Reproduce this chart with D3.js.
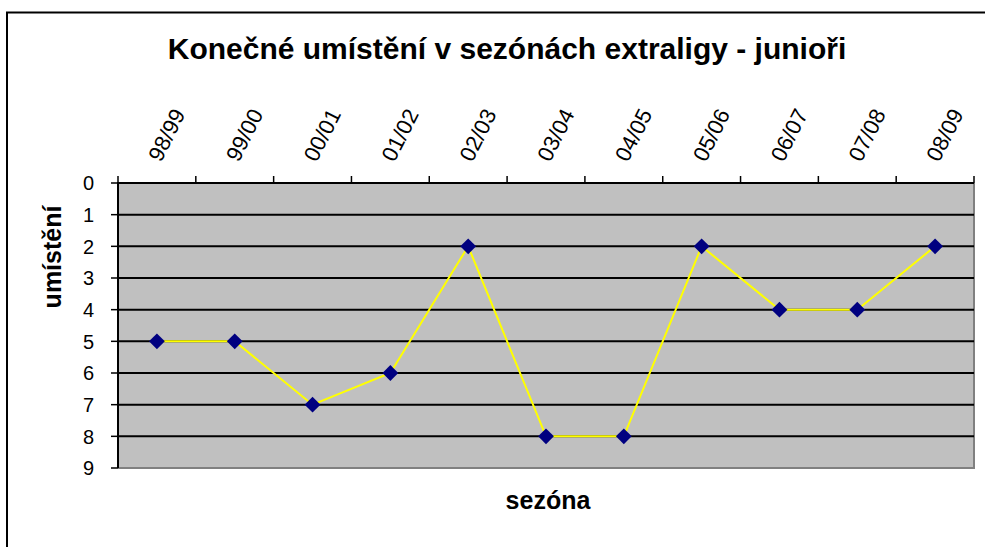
<!DOCTYPE html>
<html>
<head>
<meta charset="utf-8">
<script src="https://cdn.jsdelivr.net/npm/d3@7"></script>
<style>
  body { margin: 0; background: #fff; }
  text { font-family: Arial, "Liberation Sans", sans-serif; }
</style>
</head>
<body>
<div id="chart"></div>
<script>
var seasons = ["98/99", "99/00", "00/01", "01/02", "02/03", "03/04", "04/05", "05/06", "06/07", "07/08", "08/09"];
var placement = [5, 5, 7, 6, 2, 8, 8, 2, 4, 4, 2];
var yTicks = [0, 1, 2, 3, 4, 5, 6, 7, 8, 9];

var width = 985, height = 547;
var pLeft = 118, pRight = 974, pTop = 183, pBottom = 468;

var svg = d3.select("#chart").append("svg")
    .attr("width", width)
    .attr("height", height);

// outer frame (runs off the right and bottom edge)
svg.append("rect")
    .attr("x", 7).attr("y", 12.5)
    .attr("width", 1000).attr("height", 600)
    .attr("fill", "#fff")
    .attr("stroke", "#000")
    .attr("stroke-width", 2);

var x = d3.scaleBand().domain(seasons).range([pLeft, pRight]);
var y = d3.scaleLinear().domain([0, 9]).range([pTop, pBottom]);

// plot area
svg.append("rect")
    .attr("x", pLeft).attr("y", pTop)
    .attr("width", pRight - pLeft).attr("height", pBottom - pTop)
    .attr("fill", "#c0c0c0");

// gray border right and bottom
svg.append("path")
    .attr("d", "M" + pRight + "," + pTop + "V" + pBottom + "H" + pLeft)
    .attr("fill", "none")
    .attr("stroke", "#808080")
    .attr("stroke-width", 2);

// gridlines
svg.selectAll(".grid")
    .data(yTicks.slice(1, -1))
    .enter().append("line")
    .attr("x1", pLeft).attr("x2", pRight)
    .attr("y1", function(d){ return y(d); })
    .attr("y2", function(d){ return y(d); })
    .attr("stroke", "#000")
    .attr("stroke-width", 2);

// top axis line and ticks
svg.append("line")
    .attr("x1", pLeft).attr("x2", pRight)
    .attr("y1", pTop).attr("y2", pTop)
    .attr("stroke", "#000").attr("stroke-width", 2);

var bounds = seasons.map(function(d){ return x(d); }).concat([pRight]);
svg.selectAll(".xtick")
    .data(bounds)
    .enter().append("line")
    .attr("x1", function(d){ return d; })
    .attr("x2", function(d){ return d; })
    .attr("y1", pTop).attr("y2", pTop - 7)
    .attr("stroke", "#000").attr("stroke-width", 1.5);

// left axis
svg.append("line")
    .attr("x1", pLeft).attr("x2", pLeft)
    .attr("y1", pTop - 1).attr("y2", pBottom)
    .attr("stroke", "#000").attr("stroke-width", 2);

svg.selectAll(".ytick")
    .data(yTicks)
    .enter().append("line")
    .attr("x1", pLeft - 7).attr("x2", pLeft)
    .attr("y1", function(d){ return y(d); })
    .attr("y2", function(d){ return y(d); })
    .attr("stroke", "#000").attr("stroke-width", 1.5);

svg.selectAll(".ylabel")
    .data(yTicks)
    .enter().append("text")
    .attr("x", 94)
    .attr("y", function(d){ return y(d); })
    .attr("dy", "0.36em")
    .attr("text-anchor", "end")
    .attr("font-size", 20)
    .text(function(d){ return d; });

// rotated season labels
svg.selectAll(".xlabel")
    .data(seasons)
    .enter().append("text")
    .attr("transform", function(d){
        return "translate(" + (x(d) + x.bandwidth() / 2 + 4) + "," + 163 + ") rotate(-63)";
    })
    .attr("text-anchor", "start")
    .attr("font-size", 22)
    .text(function(d){ return d; });

// line and markers
var cx = function(i){ return x(seasons[i]) + x.bandwidth() / 2; };

svg.append("path")
    .datum(placement)
    .attr("d", d3.line()
        .x(function(d, i){ return cx(i); })
        .y(function(d){ return y(d); }))
    .attr("fill", "none")
    .attr("stroke", "#ffff00")
    .attr("stroke-width", 2);

svg.selectAll(".marker")
    .data(placement)
    .enter().append("path")
    .attr("d", d3.symbol().type(d3.symbolSquare).size(125))
    .attr("transform", function(d, i){
        return "translate(" + cx(i) + "," + y(d) + ") rotate(45)";
    })
    .attr("fill", "#000080");

// titles
svg.append("text")
    .attr("x", 507).attr("y", 59)
    .attr("text-anchor", "middle")
    .attr("font-size", 30)
    .attr("font-weight", "bold")
    .text("Konečné umístění v sezónách extraligy - junioři");

svg.append("text")
    .attr("transform", "translate(61,257) rotate(-90)")
    .attr("text-anchor", "middle")
    .attr("font-size", 25)
    .attr("font-weight", "bold")
    .text("umístění");

svg.append("text")
    .attr("x", 548).attr("y", 509)
    .attr("text-anchor", "middle")
    .attr("font-size", 25)
    .attr("font-weight", "bold")
    .text("sezóna");
</script>
</body>
</html>
